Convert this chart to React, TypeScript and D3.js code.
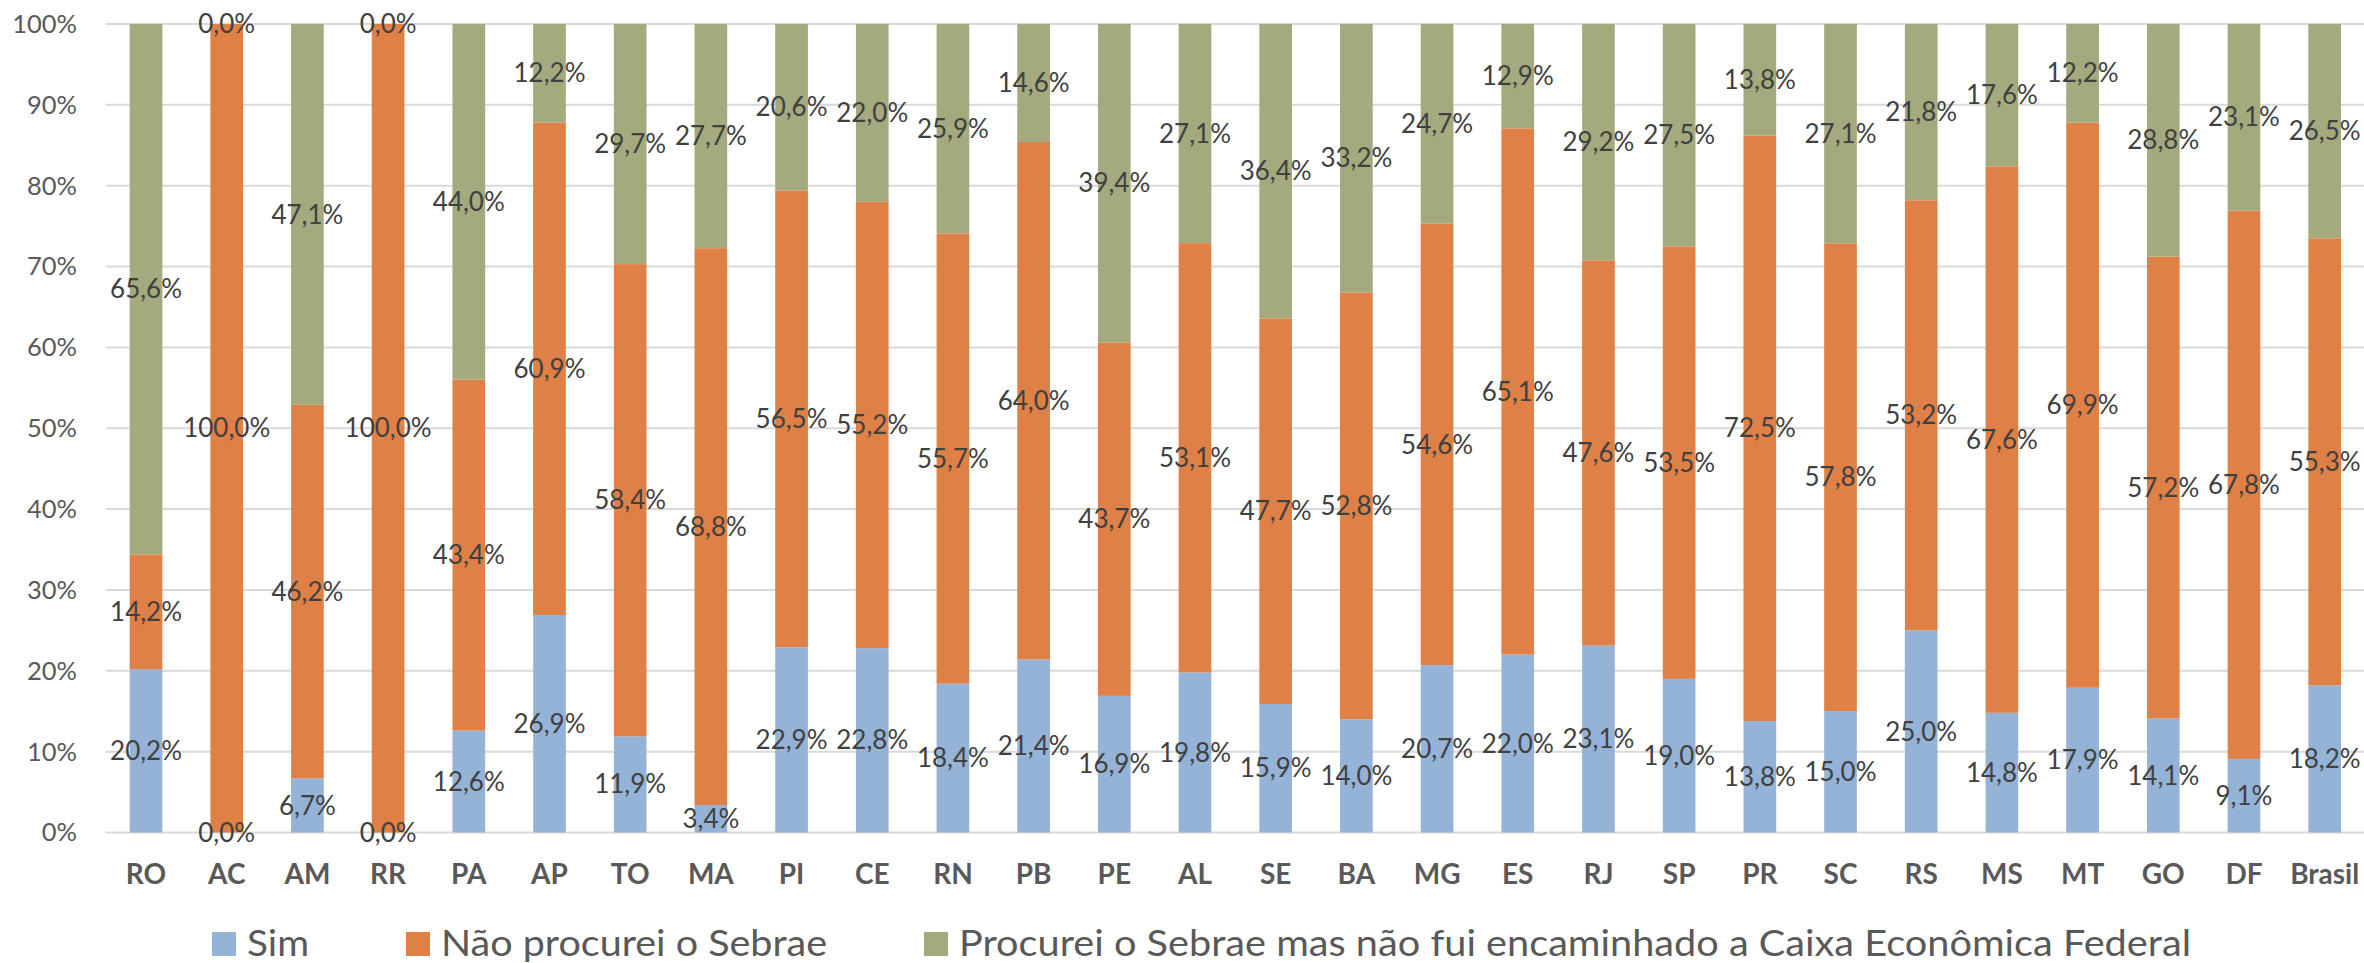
import React from "react";
import * as d3 from "d3";

const categories = ["RO","AC","AM","RR","PA","AP","TO","MA","PI","CE","RN","PB","PE","AL","SE","BA","MG","ES","RJ","SP","PR","SC","RS","MS","MT","GO","DF","Brasil"];
const sim = [20.2,0.0,6.7,0.0,12.6,26.9,11.9,3.4,22.9,22.8,18.4,21.4,16.9,19.8,15.9,14.0,20.7,22.0,23.1,19.0,13.8,15.0,25.0,14.8,17.9,14.1,9.1,18.2];
const naoProcurei = [14.2,100.0,46.2,100.0,43.4,60.9,58.4,68.8,56.5,55.2,55.7,64.0,43.7,53.1,47.7,52.8,54.6,65.1,47.6,53.5,72.5,57.8,53.2,67.6,69.9,57.2,67.8,55.3];
const procurei = [65.6,0.0,47.1,0.0,44.0,12.2,29.7,27.7,20.6,22.0,25.9,14.6,39.4,27.1,36.4,33.2,24.7,12.9,29.2,27.5,13.8,27.1,21.8,17.6,12.2,28.8,23.1,26.5];
const seriesNames = ["Sim","Não procurei o Sebrae","Procurei o Sebrae mas não fui encaminhado a Caixa Econômica Federal"];
const seriesValues = [sim, naoProcurei, procurei];
const colors = ["#95B3D6", "#DF8046", "#A4AA7E"];
const yTicks = [0,0.1,0.2,0.3,0.4,0.5,0.6,0.7,0.8,0.9,1.0];

const W = 2364, H = 963;
const FONT = "Lato, 'Open Sans', sans-serif";

export default function App() {
  const x = d3.scaleBand<string>().domain(categories).range([105.7, 2365]).padding(0);
  const y = d3.scaleLinear().domain([0, 1]).range([832.5, 24]);
  const barW = x.bandwidth() * 0.405;
  const fmtPct = (v: number) => d3.format(".0%")(v);
  const fmtLbl = (v: number) => d3.format(".1f")(v).replace(".", ",") + "%";

  const rows = categories.map((c, i) => {
    const vals = seriesValues.map(s => s[i]);
    const total = d3.sum(vals);
    let acc = 0;
    return vals.map((v, k) => {
      const y0 = acc / total;
      acc += v;
      const y1 = acc / total;
      return { c, k, v, y0, y1 };
    });
  });

  const legendBoxes = [212, 406, 924];
  const legendWidths = [62, 386, 1232];

  return (
    <svg width={W} height={H} style={{ position: "absolute", left: 0, top: 0, background: "#fff" }} fontFamily={FONT}>
      <rect x={0} y={0} width={W} height={H} fill="#fff" />
      {yTicks.map(t => (
        <g key={t}>
          <line x1={105.7} x2={2364} y1={y(t)} y2={y(t)} stroke="#D9D9D9" strokeWidth={2} />
          <text x={77} y={y(t)} dy="0.35em" textAnchor="end" fontSize={25.5} fill="#595959">{fmtPct(t)}</text>
        </g>
      ))}
      {rows.map(segs => segs.map(s => (
        <rect key={s.c + s.k}
          x={(x(s.c) as number) + x.bandwidth() / 2 - barW / 2}
          width={barW}
          y={y(s.y1)}
          height={Math.max(0, y(s.y0) - y(s.y1))}
          fill={colors[s.k]} />
      )))}
      {rows.map(segs => segs.map(s => (
        <text key={"l" + s.c + s.k}
          x={(x(s.c) as number) + x.bandwidth() / 2}
          y={y((s.y0 + s.y1) / 2)} dy="0.35em"
          textAnchor="middle" fontSize={26} fill="#404040">{fmtLbl(s.v)}</text>
      )))}
      {categories.map(c => (
        <text key={"c" + c} x={(x(c) as number) + x.bandwidth() / 2} y={884}
          textAnchor="middle" fontSize={28} fontWeight="bold" fill="#595959">{c}</text>
      ))}
      {seriesNames.map((n, k) => (
        <g key={"lg" + k}>
          <rect x={legendBoxes[k]} y={932} width={24} height={24} fill={colors[k]} />
          <text x={legendBoxes[k] + 35} y={956} fontSize={37} fill="#595959"
            textLength={legendWidths[k]} lengthAdjust="spacingAndGlyphs">{n}</text>
        </g>
      ))}
    </svg>
  );
}
